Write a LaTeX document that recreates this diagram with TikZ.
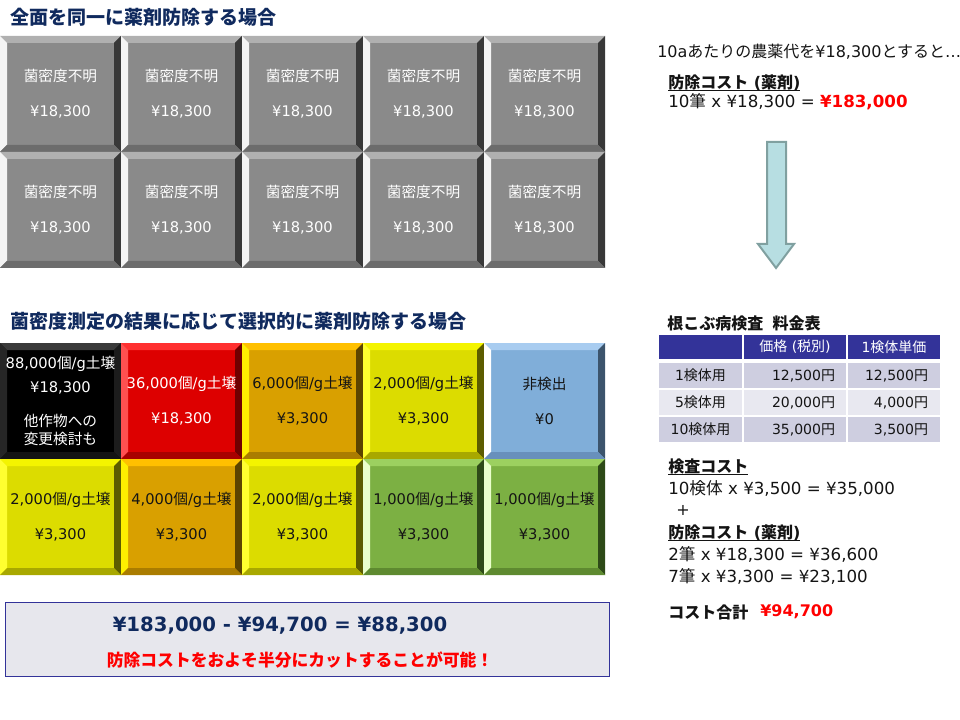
\documentclass[tikz,border=0pt]{standalone}
\usepackage{fontspec}
\setmainfont{DejaVu Sans}
\newfontfamily\jpfamily{Noto Sans CJK JP}
% automatic switch to the Japanese font for CJK characters
\XeTeXinterchartokenstate=1
\newXeTeXintercharclass\jpclass
\newcount\jpcnt
\def\setjprange#1#2{\jpcnt=#1\relax\loop\XeTeXcharclass\jpcnt=\jpclass\advance\jpcnt by 1\relax\ifnum\jpcnt<#2\repeat}
\setjprange{"3000}{"3100}
\setjprange{"4E00}{"A000}
\setjprange{"FF00}{"FFF0}
\XeTeXinterchartoks 0 \jpclass = {\jpfamily}
\XeTeXinterchartoks 4095 \jpclass = {\jpfamily}
\XeTeXinterchartoks \jpclass 0 = {\rmfamily}
\XeTeXinterchartoks \jpclass 4095 = {\rmfamily}

\newcommand\ulx[1]{\setbox0\hbox{#1}\rlap{\rule[-2pt]{\wd0}{0.9pt}}\box0}

\definecolor{navy}{RGB}{16,42,94}
\definecolor{hdrblue}{RGB}{51,51,153}
\definecolor{rowA}{RGB}{206,206,224}
\definecolor{rowB}{RGB}{232,232,240}
\definecolor{boxgray}{RGB}{231,231,237}
\definecolor{txt}{RGB}{20,20,20}
\definecolor{hot}{RGB}{255,0,0}
\definecolor{arrowfill}{RGB}{183,222,226}
\definecolor{arrowline}{RGB}{128,160,160}
% tile palettes: F face, T top, L left, R right, B bottom, X text
\definecolor{grF}{HTML}{8A8A8A}\definecolor{grT}{HTML}{B0B0B0}\definecolor{grL}{HTML}{F4F4F4}\definecolor{grR}{HTML}{383838}\definecolor{grB}{HTML}{6C6C6C}\colorlet{grX}{white}
\definecolor{bkF}{HTML}{000000}\definecolor{bkT}{HTML}{3A3A3A}\definecolor{bkL}{HTML}{262626}\definecolor{bkR}{HTML}{1C1C1C}\definecolor{bkB}{HTML}{141414}\colorlet{bkX}{white}
\definecolor{rdF}{HTML}{DD0000}\definecolor{rdT}{HTML}{FF3030}\definecolor{rdL}{HTML}{FF5050}\definecolor{rdR}{HTML}{700000}\definecolor{rdB}{HTML}{A80000}\colorlet{rdX}{white}
\definecolor{orF}{HTML}{D9A000}\definecolor{orT}{HTML}{FFC000}\definecolor{orL}{HTML}{FFEF00}\definecolor{orR}{HTML}{5C4400}\definecolor{orB}{HTML}{AA7C00}\colorlet{orX}{txt}
\definecolor{yeF}{HTML}{DCDC00}\definecolor{yeT}{HTML}{F4F400}\definecolor{yeL}{HTML}{FFFF30}\definecolor{yeR}{HTML}{5C5C00}\definecolor{yeB}{HTML}{A8A800}\colorlet{yeX}{txt}
\definecolor{blF}{HTML}{80AED9}\definecolor{blT}{HTML}{A8CCF0}\definecolor{blL}{HTML}{FFFFFF}\definecolor{blR}{HTML}{3C546C}\definecolor{blB}{HTML}{6890BC}\colorlet{blX}{txt}
\definecolor{gnF}{HTML}{7CB043}\definecolor{gnT}{HTML}{9CD060}\definecolor{gnL}{HTML}{EAFFCC}\definecolor{gnR}{HTML}{2E4A18}\definecolor{gnB}{HTML}{5E8A30}\colorlet{gnX}{txt}

\tikzset{
  tilebox/.style={rectangle, inner sep=0pt, minimum width=90.75pt, minimum height=87pt, align=center, font=\fontsize{11}{14}\selectfont},
  title/.style={anchor=west, inner sep=0pt, text=navy, font=\bfseries\fontsize{14.25}{17}\selectfont},
  rt/.style={anchor=west, inner sep=0pt, text=txt, font=\fontsize{12}{14}\selectfont},
  rtf/.style={rt, font=\fontsize{12.5}{14}\selectfont},
  rtb/.style={rt, font=\bfseries\fontsize{12}{14}\selectfont},
  tcell/.style={rectangle, draw=white, line width=1.5pt, inner sep=0pt, text=txt, font=\fontsize{10.5}{12}\selectfont},
  thead/.style={tcell, fill=hdrblue, text=white, minimum height=19.5pt},
  trow/.style={tcell, minimum height=20.25pt},
  c1/.style={minimum width=63.75pt, align=center},
  c2/.style={minimum width=78pt, text width=60pt, inner xsep=9pt, align=right},
  c3/.style={minimum width=70.5pt, text width=51pt, inner xsep=9.75pt, align=right},
  h2/.style={minimum width=78pt, align=center},
  h3/.style={minimum width=70.5pt, align=center},
  blockarrow/.style={fill=arrowfill, draw=arrowline, line width=1.5pt, line join=miter},
}

\newcommand\bev[5]{% name, x, y, palette, text
  \fill[#4F] (#2,#3) rectangle ({#2+121},{#3+116});
  \fill[#4T] (#2,#3) -- ({#2+121},#3) -- ({#2+114},{#3+7}) -- ({#2+7},{#3+7}) -- cycle;
  \fill[#4L] (#2,#3) -- ({#2+7},{#3+7}) -- ({#2+7},{#3+109}) -- (#2,{#3+116}) -- cycle;
  \fill[#4R] ({#2+121},#3) -- ({#2+121},{#3+116}) -- ({#2+114},{#3+109}) -- ({#2+114},{#3+7}) -- cycle;
  \fill[#4B] (#2,{#3+116}) -- ({#2+121},{#3+116}) -- ({#2+114},{#3+109}) -- ({#2+7},{#3+109}) -- cycle;
  \node[tilebox, text=#4X] (#1) at ({#2+60.5},{#3+58}) {#5};
}

\begin{document}
\begin{tikzpicture}[x=0.75pt,y=-0.75pt]
\useasboundingbox (0,0) rectangle (960,720);

% ---- titles
\node[title] (title1) at (10,17) {全面を同一に薬剤防除する場合};
\node[title] (title2) at (10,321) {菌密度測定の結果に応じて選択的に薬剤防除する場合};

% ---- uniform grid
\bev{u1}{0}{36}{gr}{菌密度不明\\[12pt]¥18,300}
\bev{u2}{121}{36}{gr}{菌密度不明\\[12pt]¥18,300}
\bev{u3}{242}{36}{gr}{菌密度不明\\[12pt]¥18,300}
\bev{u4}{363}{36}{gr}{菌密度不明\\[12pt]¥18,300}
\bev{u5}{484}{36}{gr}{菌密度不明\\[12pt]¥18,300}
\bev{u6}{0}{152}{gr}{菌密度不明\\[12pt]¥18,300}
\bev{u7}{121}{152}{gr}{菌密度不明\\[12pt]¥18,300}
\bev{u8}{242}{152}{gr}{菌密度不明\\[12pt]¥18,300}
\bev{u9}{363}{152}{gr}{菌密度不明\\[12pt]¥18,300}
\bev{u10}{484}{152}{gr}{菌密度不明\\[12pt]¥18,300}

% ---- selective grid
\bev{s1}{0}{343}{bk}{88,000個/g土壌\\[4.5pt]¥18,300\\[11pt]他作物への\\変更検討も}
\bev{s2}{121}{343}{rd}{36,000個/g土壌\\[12pt]¥18,300}
\bev{s3}{242}{343}{or}{6,000個/g土壌\\[12pt]¥3,300}
\bev{s4}{363}{343}{ye}{2,000個/g土壌\\[12pt]¥3,300}
\bev{s5}{484}{343}{bl}{非検出\\[12pt]¥0}
\bev{s6}{0}{459}{ye}{2,000個/g土壌\\[12pt]¥3,300}
\bev{s7}{121}{459}{or}{4,000個/g土壌\\[12pt]¥3,300}
\bev{s8}{242}{459}{ye}{2,000個/g土壌\\[12pt]¥3,300}
\bev{s9}{363}{459}{gn}{1,000個/g土壌\\[12pt]¥3,300}
\bev{s10}{484}{459}{gn}{1,000個/g土壌\\[12pt]¥3,300}

% ---- right: uniform cost
\node[rt] (intro) at (657,52) {10aあたりの農薬代を¥18,300とすると…};
\node[rtb] (cost1h) at (668,83) {\ulx{防除コスト (薬剤)}};
\node[rtf] (cost1) at (668,102) {10筆 x ¥18,300 = {\bfseries\color{hot}¥183,000}};

% ---- block arrow
\draw[blockarrow] (767,142) -- (786,142) -- (786,244) -- (794,244) -- (776,268) -- (758,244) -- (767,244) -- cycle;

% ---- price table
\node[rtb] (tabtitle) at (667,323) {根こぶ病検査\kern7pt 料金表};
\node[thead, c1] (h1) at (700.5,347) {};
\node[thead, h2] (h2) at (795,347) {価格 (税別)};
\node[thead, h3] (h3) at (894,347) {1検体単価};
\node[trow, c1, fill=rowA] (r11) at (700.5,375.5) {1検体用};
\node[trow, c2, fill=rowA] (r12) at (795,375.5) {12,500円};
\node[trow, c3, fill=rowA] (r13) at (894,375.5) {12,500円};
\node[trow, c1, fill=rowB] (r21) at (700.5,402.5) {5検体用};
\node[trow, c2, fill=rowB] (r22) at (795,402.5) {20,000円};
\node[trow, c3, fill=rowB] (r23) at (894,402.5) {4,000円};
\node[trow, c1, fill=rowA] (r31) at (700.5,429.5) {10検体用};
\node[trow, c2, fill=rowA] (r32) at (795,429.5) {35,000円};
\node[trow, c3, fill=rowA] (r33) at (894,429.5) {3,500円};

% ---- right: selective cost
\node[rtb] (testh) at (668,467) {\ulx{検査コスト}};
\node[rtf] (test1) at (668,488) {10検体 x ¥3,500 = ¥35,000};
\node[rt, anchor=center] (plus) at (683,510) {+};
\node[rtb] (cost2h) at (668,533) {\ulx{防除コスト (薬剤)}};
\node[rtf] (cost2a) at (668,554) {2筆 x ¥18,300 = ¥36,600};
\node[rtf] (cost2b) at (668,576) {7筆 x ¥3,300 = ¥23,100};
\node[rtb] (totl) at (668,612) {コスト合計};
\node[rtb, text=hot] (totv) at (760,612) {¥94,700};

% ---- summary box
\node[draw=hdrblue, fill=boxgray, line width=0.75pt, inner sep=0pt, minimum width=453pt, minimum height=55.5pt] (sumbox) at (307,639) {};
\node[inner sep=0pt, text=navy, font=\bfseries\fontsize{14.75}{17}\selectfont] (sum1) at (280,626) {¥183,000 - ¥94,700 = ¥88,300};
\node[inner sep=0pt, text=hot, font=\bfseries\fontsize{12.6}{15}\selectfont] (sum2) at (300,660) {防除コストをおよそ半分にカットすることが可能！};
\end{tikzpicture}
\end{document}
